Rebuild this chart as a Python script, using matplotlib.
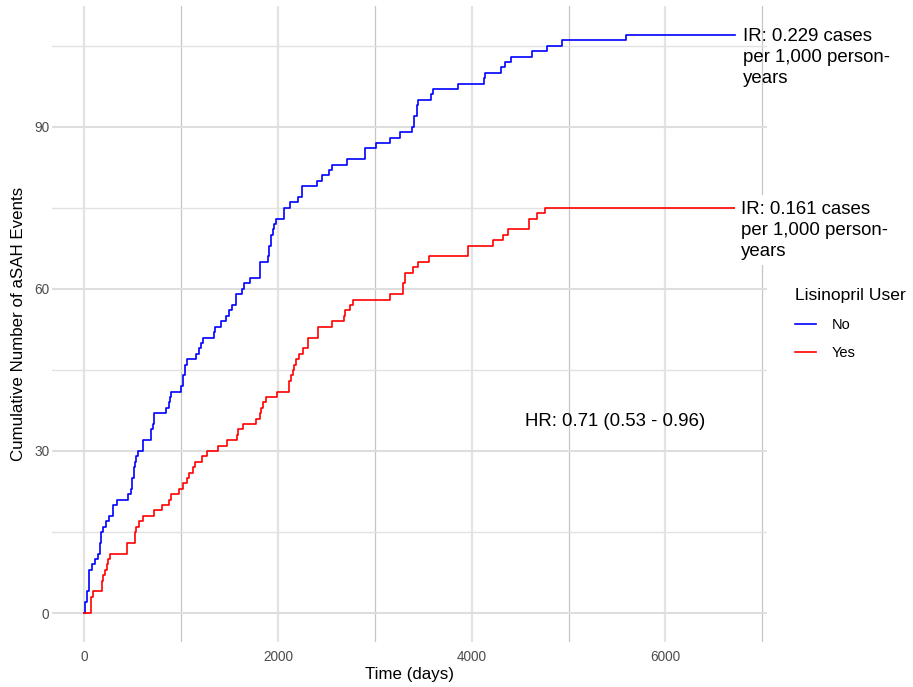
import matplotlib
matplotlib.use("Agg")
import matplotlib.pyplot as plt
from matplotlib.ticker import MultipleLocator

plt.rcParams['font.family'] = ['Liberation Sans', 'DejaVu Sans']

# cumulative aSAH events over follow-up, non-users of lisinopril
no_days = [0, 7, 24, 52, 76, 110, 145, 162, 172, 189, 224, 258, 293, 338, 455, 482,
           489, 510, 523, 537, 558, 610, 689, 706, 723, 844, 878, 885, 896, 999, 1023,
           1043, 1057, 1154, 1181, 1206, 1222, 1343, 1353, 1412, 1464, 1498, 1526, 1567,
           1632, 1653, 1715, 1815, 1894, 1911, 1929, 1952, 1963, 1980, 2059, 2125, 2204,
           2249, 2400, 2456, 2524, 2560, 2707, 2903, 3013, 3161, 3264, 3385, 3399, 3433,
           3443, 3582, 3605, 3856, 4132, 4139, 4298, 4339, 4408, 4621, 4773, 4928, 5589,
           6715]
no_events = [0, 2, 4, 8, 9, 10, 11, 13, 15, 16, 17, 18, 20, 21, 22, 23,
             25, 27, 28, 29, 30, 32, 34, 35, 37, 38, 39, 40, 41, 42, 44,
             46, 47, 48, 49, 50, 51, 52, 53, 54, 55, 56, 57, 59,
             60, 61, 62, 65, 66, 68, 70, 71, 72, 73, 75, 76, 77,
             79, 80, 81, 82, 83, 84, 86, 87, 88, 89, 90, 92, 94,
             95, 96, 97, 98, 99, 100, 101, 102, 103, 104, 105, 106, 107,
             107]

# lisinopril users
yes_days = [0, 69, 86, 179, 189, 214, 231, 241, 269, 441, 524, 537, 568, 603, 723, 799,
            878, 895, 981, 1016, 1061, 1085, 1119, 1143, 1216, 1264, 1377, 1470, 1573,
            1584, 1635, 1774, 1815, 1825, 1842, 1877, 1987, 2118, 2135, 2152, 2169, 2187,
            2221, 2255, 2307, 2417, 2555, 2680, 2696, 2740, 2772, 3158, 3290, 3310, 3390,
            3443, 3560, 3965, 4225, 4321, 4370, 4590, 4678, 4752, 6715]
yes_events = [0, 3, 4, 6, 7, 8, 9, 10, 11, 13, 15, 16, 17, 18, 19, 20,
              21, 22, 23, 24, 25, 26, 27, 28, 29, 30, 31, 32, 33,
              34, 35, 36, 37, 38, 39, 40, 41, 43, 44, 45, 46, 47,
              48, 49, 51, 53, 54, 55, 56, 57, 58, 59, 61, 63, 64,
              65, 66, 68, 69, 70, 71, 73, 74, 75, 75]

ir_no = "IR: 0.229 cases\nper 1,000 person-\nyears"
ir_yes = "IR: 0.161 cases\nper 1,000 person-\nyears"
hr_text = "HR: 0.71 (0.53 - 0.96)"

fig = plt.figure(figsize=(9.13, 6.87), dpi=100)
ax = fig.add_axes([52 / 913, 1 - 642 / 687, (767 - 52) / 913, (642 - 6) / 687])

ax.step(no_days, no_events, where='post', color='#0000ff', lw=1.2, label='No', zorder=3)
ax.step(yes_days, yes_events, where='post', color='#ff0000', lw=1.2, label='Yes', zorder=3)

ax.set_xlim(-335, 7050)
ax.set_ylim(-5.35, 112.35)
ax.xaxis.set_major_locator(MultipleLocator(2000))
ax.xaxis.set_minor_locator(MultipleLocator(1000))
ax.yaxis.set_major_locator(MultipleLocator(30))
ax.yaxis.set_minor_locator(MultipleLocator(15))

ax.grid(True, axis='x', which='major', color='#e3e3e3', lw=1.6)
ax.grid(True, axis='x', which='minor', color='#c6c6c6', lw=0.9)
ax.grid(True, axis='y', which='major', color='#dedede', lw=1.5)
ax.grid(True, axis='y', which='minor', color='#e2e2e2', lw=1.0)
ax.set_axisbelow(True)
for s in ax.spines.values():
    s.set_visible(False)
ax.tick_params(which='both', length=0, labelsize=9.8, labelcolor='#4d4d4d')
ax.tick_params(axis='y', pad=2)
ax.tick_params(axis='x', pad=6)

ax.set_xlabel("Time (days)", fontsize=12.2, labelpad=2)
ax.set_ylabel("Cumulative Number of aSAH Events", fontsize=12.2, labelpad=6)

# incidence rates at the end of each curve
ax.annotate(ir_no, xy=(no_days[-1], no_events[-1]), xytext=(8, 7),
            textcoords='offset pixels', va='top', ha='left', fontsize=13.4,
            linespacing=1.3, annotation_clip=False)
ax.annotate(ir_yes, xy=(yes_days[-1], yes_events[-1]), xytext=(6, 7),
            textcoords='offset pixels', va='top', ha='left', fontsize=13.4,
            linespacing=1.3, annotation_clip=False,
            bbox=dict(boxstyle='square,pad=0.3', fc='white', ec='none'))
ax.text(4555, 35.5, hr_text, fontsize=13.4, ha='left', va='center')

leg = ax.legend(loc='upper left', bbox_to_anchor=(782 / 913, 1 - 275 / 687),
                bbox_transform=fig.transFigure, frameon=False,
                title="Lisinopril User", title_fontsize=12.6, fontsize=10.5,
                handlelength=1.4, handletextpad=1.1, labelspacing=1.0,
                alignment='left')

fig.savefig("out.png", dpi=100)
